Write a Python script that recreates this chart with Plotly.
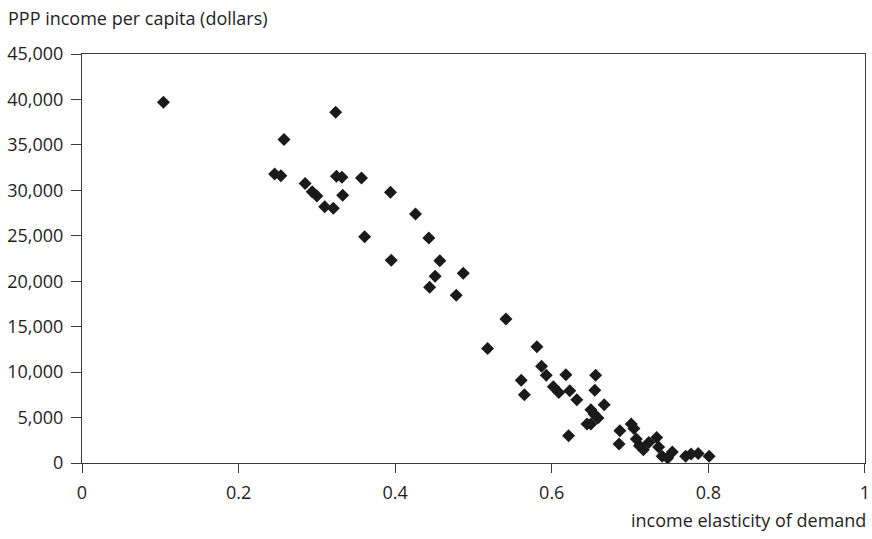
import plotly.graph_objects as go

elasticity = [0.104, 0.324, 0.258, 0.246, 0.254, 0.285, 0.294, 0.300, 0.310, 0.321,
              0.325, 0.332, 0.333, 0.357, 0.361, 0.394, 0.395, 0.426, 0.443, 0.457,
              0.451, 0.444, 0.487, 0.478, 0.5415, 0.518, 0.581, 0.587, 0.593, 0.618,
              0.656, 0.561, 0.565, 0.602, 0.609, 0.623, 0.655, 0.632, 0.667, 0.650,
              0.654, 0.659, 0.645, 0.650, 0.6215, 0.687, 0.686, 0.7015, 0.705, 0.708,
              0.712, 0.717, 0.724, 0.734, 0.7365, 0.741, 0.748, 0.754, 0.771, 0.778,
              0.787, 0.801]
income = [39700, 38600, 35600, 31800, 31600, 30750, 29850, 29380, 28200, 28020,
          31550, 31450, 29450, 31350, 24900, 29800, 22300, 27400, 24750, 22250,
          20550, 19350, 20880, 18450, 15850, 12600, 12800, 10650, 9650, 9700,
          9650, 9100, 7500, 8400, 7750, 7950, 8000, 6950, 6400, 5850,
          5400, 4950, 4300, 4300, 3000, 3550, 2100, 4300, 3800, 2650,
          1900, 1450, 2250, 2800, 1750, 750, 550, 1200, 750, 1000,
          1050, 750]

y_ticks = list(range(0, 45001, 5000))
x_ticks = [0, 0.2, 0.4, 0.6, 0.8, 1]
x_tick_labels = ["0", "0.2", "0.4", "0.6", "0.8", "1"]

font = "Open Sans"
fsize = 18
text_color = "#1e1e1e"
axis_color = "#3a3a3a"

fig = go.Figure(go.Scatter(
    x=elasticity, y=income, mode="markers",
    marker=dict(symbol="diamond", size=10, color="#1a1a1a", line=dict(width=0)),
    hoverinfo="x+y",
))

fig.update_layout(
    width=872, height=539,
    margin=dict(l=82, r=7, t=54, b=76, autoexpand=False),
    paper_bgcolor="white", plot_bgcolor="white",
    showlegend=False,
    font=dict(family=font, size=fsize, color=text_color),
    annotations=[
        dict(text="PPP income per capita (dollars)", xref="paper", yref="paper",
             x=-0.097, y=1.055, xanchor="left", yanchor="bottom", showarrow=False,
             font=dict(family=font, size=fsize, color=text_color)),
        dict(text="income elasticity of demand", xref="paper", yref="paper",
             x=1.004, y=-0.106, xanchor="right", yanchor="top", showarrow=False,
             font=dict(family=font, size=fsize, color=text_color)),
    ],
)

fig.update_xaxes(
    range=[0, 1.0001], tickvals=x_ticks, ticktext=x_tick_labels,
    showgrid=False, zeroline=False, automargin=False,
    showline=True, linecolor=axis_color, linewidth=1, mirror=True,
    ticks="outside", ticklen=9, tickcolor=axis_color, tickwidth=1,
    ticklabelstandoff=4, ticklabeloverflow="allow",
)
fig.update_yaxes(
    range=[0, 45000], tickvals=y_ticks, tickformat=",",
    showgrid=False, zeroline=False, automargin=False,
    showline=True, linecolor=axis_color, linewidth=1, mirror=True,
    ticks="outside", ticklen=10, tickcolor=axis_color, tickwidth=1,
    ticklabelstandoff=4, ticklabeloverflow="allow",
)

fig.write_html(
    "out.html",
    config={"displayModeBar": False},
    post_script="document.body.style.margin='0';document.body.style.padding='0';",
)
